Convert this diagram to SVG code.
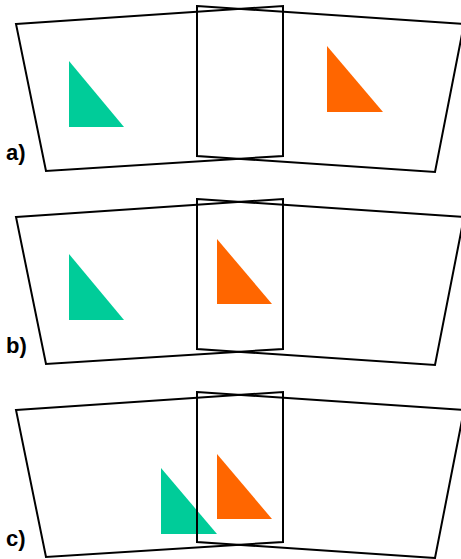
<svg xmlns="http://www.w3.org/2000/svg" width="461" height="559" viewBox="0 0 461 559">
<style>
.q{fill:none;stroke:#000;stroke-width:2;stroke-linejoin:miter}
.g{fill:#00cc99}
.o{fill:#ff6600}
.l{font-family:"Liberation Sans",Arial,sans-serif;font-weight:bold;font-size:22px;fill:#000}
</style>
<rect width="461" height="559" fill="#fff"/>
<g id="panel-a">
<polygon id="a-green" class="g" points="69,61 69,127 124,127"/>
<polygon id="a-orange" class="o" points="327,46 327,112 383,112"/>
<g id="a-frames">
<polygon id="a-left" class="q" points="16,24 283,6 283,156 46,171"/>
<polygon id="a-right" class="q" points="197,6 464,24 435,172 197,156"/>
</g>
<text class="l" x="6" y="160">a)</text>
</g>
<g id="panel-b" transform="translate(0,193)">
<polygon id="b-green" class="g" points="69,61 69,127 124,127"/>
<polygon id="b-orange" class="o" points="217,46 217,111 272,111"/>
<g id="b-frames">
<polygon id="b-left" class="q" points="16,24 283,6 283,156 46,171"/>
<polygon id="b-right" class="q" points="197,6 464,24 435,172 197,156"/>
</g>
<text class="l" x="6" y="160">b)</text>
</g>
<g id="panel-c" transform="translate(0,386)">
<polygon id="c-green" class="g" points="161,82 161,148 217,148"/>
<polygon id="c-orange" class="o" points="217,68 217,133 272,133"/>
<g id="c-frames">
<polygon id="c-left" class="q" points="16,24 283,6 283,156 46,171"/>
<polygon id="c-right" class="q" points="197,6 464,24 435,172 197,156"/>
</g>
<text class="l" x="6" y="160">c)</text>
</g>
</svg>
